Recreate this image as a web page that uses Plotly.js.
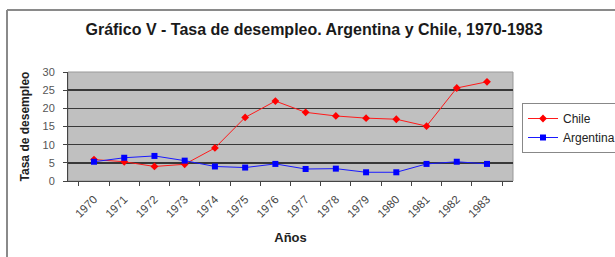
<!DOCTYPE html>
<html>
<head>
<meta charset="utf-8">
<script src="https://cdn.plot.ly/plotly-3.0.1.min.js"></script>
<style>
html,body{margin:0;padding:0;background:#fff;}
#chart{width:615px;height:257px;}
</style>
</head>
<body>
<div id="chart"></div>
<script>
const years = ["1970","1971","1972","1973","1974","1975","1976","1977","1978","1979","1980","1981","1982","1983"];
const chile = [5.9, 5.3, 4.0, 4.6, 9.1, 17.5, 22.0, 18.9, 17.9, 17.3, 17.0, 15.1, 25.6, 27.3];
const argentina = [5.3, 6.4, 6.9, 5.6, 4.0, 3.7, 4.7, 3.3, 3.4, 2.4, 2.4, 4.7, 5.3, 4.7];
const yTicks = [0, 5, 10, 15, 20, 25, 30];

const traces = [
  {
    x: years, y: chile, name: "Chile", type: "scatter", mode: "lines+markers",
    line: {color: "#ff1a1a", width: 1},
    marker: {color: "#ff0000", symbol: "diamond", size: 6}
  },
  {
    x: years, y: argentina, name: "Argentina", type: "scatter", mode: "lines+markers",
    line: {color: "#1a1aff", width: 1},
    marker: {color: "#0000ff", symbol: "square", size: 6}
  }
];

const L = 68, R = 513, T = 72, B = 181, W = 615, H = 257;
const px = v => (v - L) / (R - L);
const py = v => (B - v) / (B - T);

const layout = {
  width: W, height: H,
  margin: {l: L, r: W - R, t: T, b: H - B, pad: 0, autoexpand: false},
  paper_bgcolor: "#ffffff",
  plot_bgcolor: "#c0c0c0",
  font: {family: "Liberation Sans, Arial, sans-serif", color: "#222"},
  title: {
    text: "<b>Gráfico V - Tasa de desempleo. Argentina y Chile, 1970-1983</b>",
    font: {size: 16, color: "#1a1a1a"},
    x: 314 / W, xanchor: "center", xref: "container",
    y: 1 - 29 / H, yanchor: "middle", yref: "container"
  },
  xaxis: {
    type: "category",
    tickangle: -45,
    tickfont: {size: 11.5, color: "#444"},
    ticks: "outside", ticklen: 4, tickcolor: "#444",
    tickson: "boundaries",
    ticklabelstandoff: 6,
    showgrid: false,
    showline: true, linecolor: "#444", linewidth: 1,
    title: {text: "<b>Años</b>", font: {size: 13, color: "#222"}, standoff: 14},
    fixedrange: true
  },
  yaxis: {
    range: [0, 30],
    tickvals: yTicks,
    ticktext: yTicks.map(String),
    tickfont: {size: 11, color: "#555"},
    ticks: "outside", ticklen: 4, tickcolor: "#444",
    ticklabelstandoff: 6,
    showgrid: true, gridcolor: "#383838", gridwidth: 1.5,
    zeroline: false,
    showline: true, linecolor: "#444", linewidth: 1,
    title: {text: "<b>Tasa de desempleo</b>", font: {size: 12, color: "#222"}, standoff: 10},
    fixedrange: true
  },
  showlegend: true,
  legend: {
    xref: "container", yref: "container",
    x: 522 / W, xanchor: "left", y: 1 - 103 / H, yanchor: "top",
    bgcolor: "#ffffff", bordercolor: "#888", borderwidth: 1,
    font: {size: 12, color: "#222"},
    tracegroupgap: 0
  },
  shapes: [
    {type: "rect", xref: "paper", yref: "paper", x0: 0, x1: 1, y0: 0, y1: 1,
     line: {color: "#999", width: 1}, layer: "below"},
    {type: "line", xref: "paper", yref: "paper", x0: px(7), x1: px(7), y0: py(10), y1: py(300),
     line: {color: "#8a8a8a", width: 2}},
    {type: "line", xref: "paper", yref: "paper", x0: px(7), x1: px(700), y0: py(10), y1: py(10),
     line: {color: "#8a8a8a", width: 2}}
  ]
};

Plotly.newPlot("chart", traces, layout, {displayModeBar: false, staticPlot: true});
</script>
</body>
</html>
